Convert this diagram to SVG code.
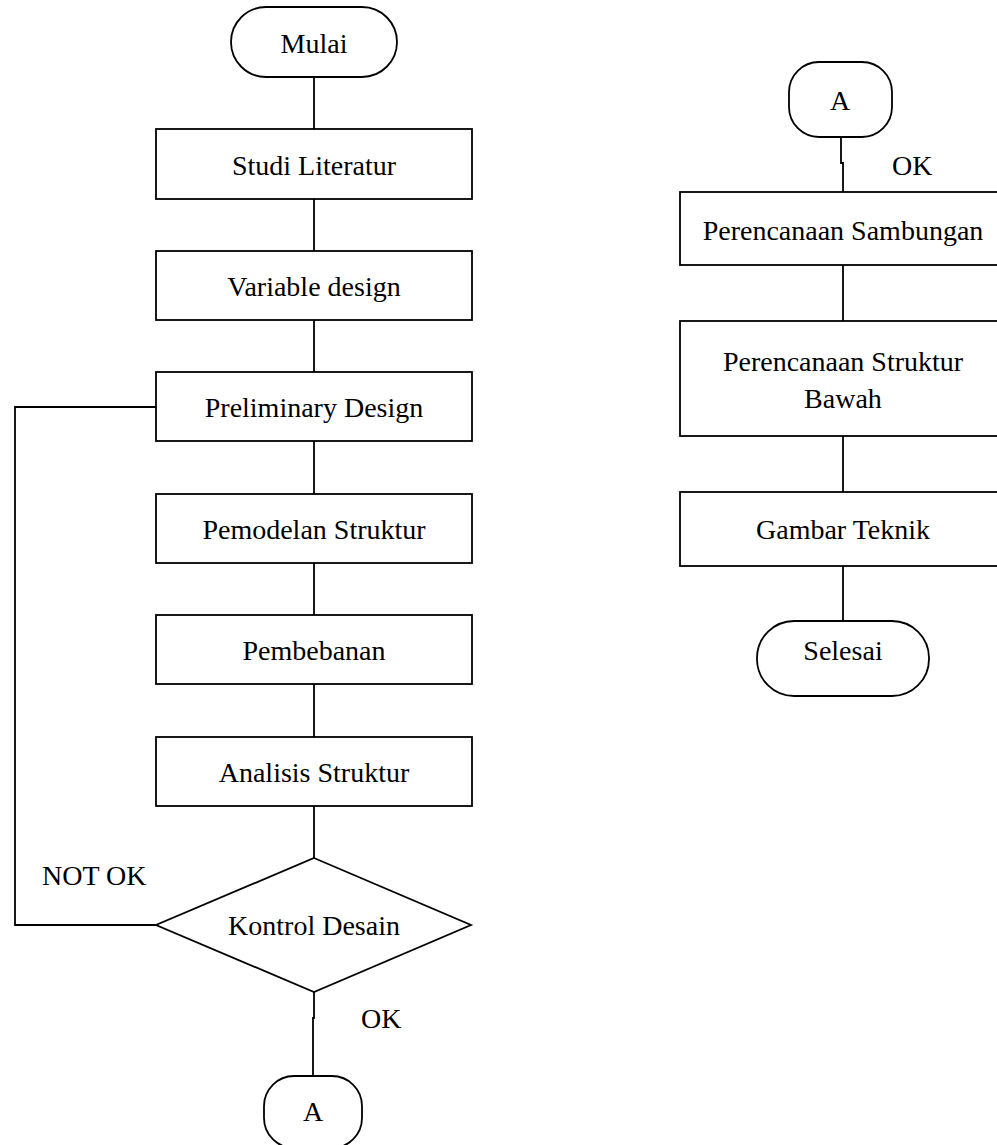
<svg xmlns="http://www.w3.org/2000/svg" width="997" height="1145" viewBox="0 0 997 1145">
<style>
.s{fill:#fff;stroke:#000;stroke-width:1.8}
.c{fill:none;stroke:#000;stroke-width:1.8}
text{font-family:"Liberation Serif","Times New Roman",serif;font-size:28px;fill:#000}
.m{text-anchor:middle}
</style>
<rect width="997" height="1145" fill="#fff"/>
<g id="connectors">
<path class="c" d="M314 77V129M314 199V251M314 320V372M314 441V494M314 563V615M314 684V737M314 806V858"/>
<path class="c" d="M156 407H15V925H156"/>
<path class="c" d="M314 992V1018H313V1076"/>
<path class="c" d="M841 137V163H843V192M843 265V321M843 436V492M843 566V621"/>
</g>
<g id="mulai"><rect class="s" x="231" y="7" width="166" height="70" rx="35"/><text class="m" x="314" y="53">Mulai</text></g>
<g id="studi"><rect class="s" x="156" y="129" width="316" height="70"/><text class="m" x="314" y="175">Studi Literatur</text></g>
<g id="variable"><rect class="s" x="156" y="251" width="316" height="69"/><text class="m" x="314" y="296">Variable design</text></g>
<g id="preliminary"><rect class="s" x="156" y="372" width="316" height="69"/><text class="m" x="314" y="417">Preliminary Design</text></g>
<g id="pemodelan"><rect class="s" x="156" y="494" width="316" height="69"/><text class="m" x="314" y="539">Pemodelan Struktur</text></g>
<g id="pembebanan"><rect class="s" x="156" y="615" width="316" height="69"/><text class="m" x="314" y="660">Pembebanan</text></g>
<g id="analisis"><rect class="s" x="156" y="737" width="316" height="69"/><text class="m" x="314" y="782">Analisis Struktur</text></g>
<g id="kontrol"><polygon class="s" points="314,858 471,925 314,992 156,925"/><text class="m" x="314" y="935">Kontrol Desain</text></g>
<g id="label-notok"><text x="42" y="885">NOT OK</text></g>
<g id="label-ok1"><text x="361" y="1028">OK</text></g>
<g id="a-bottom"><rect class="s" x="264" y="1076" width="98" height="72" rx="30"/><text class="m" x="313" y="1121">A</text></g>
<g id="a-top"><rect class="s" x="789" y="62" width="103" height="75" rx="30"/><text class="m" x="840" y="110">A</text></g>
<g id="label-ok2"><text x="892" y="175">OK</text></g>
<g id="sambungan"><rect class="s" x="680" y="192" width="326" height="73"/><text class="m" x="843" y="240">Perencanaan Sambungan</text></g>
<g id="struktur-bawah"><rect class="s" x="680" y="321" width="326" height="115"/><text class="m" x="843" y="371">Perencanaan Struktur</text><text class="m" x="843" y="408">Bawah</text></g>
<g id="gambar"><rect class="s" x="680" y="492" width="326" height="74"/><text class="m" x="843" y="539">Gambar Teknik</text></g>
<g id="selesai"><rect class="s" x="757" y="621" width="172" height="75" rx="37"/><text class="m" x="843" y="660">Selesai</text></g>
</svg>
